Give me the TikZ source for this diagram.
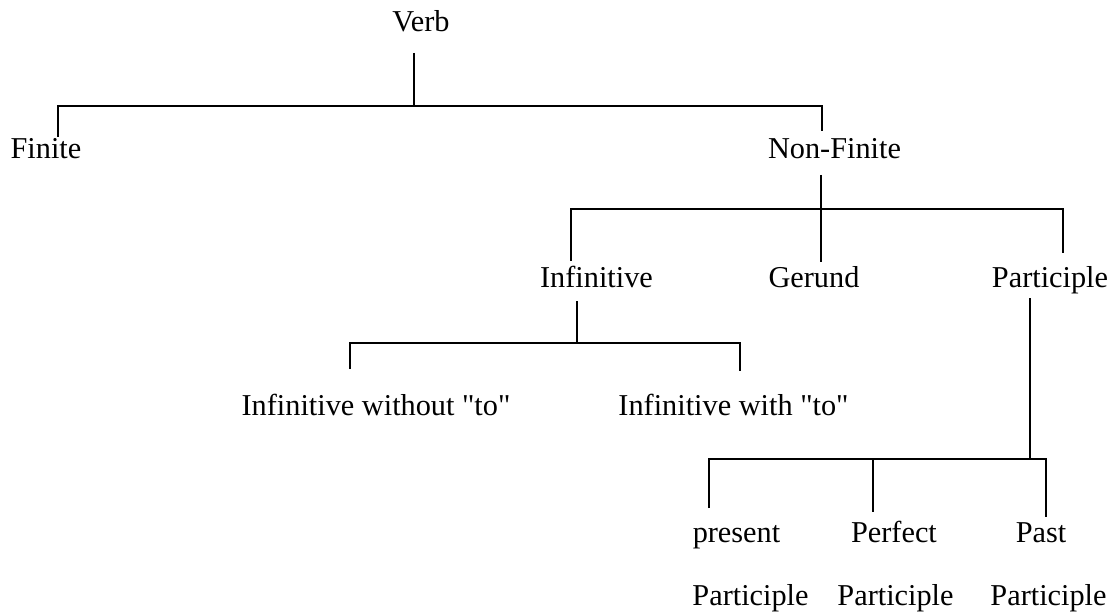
\documentclass[tikz,border=0pt]{standalone}
\usepackage{fontspec}
\setmainfont{Liberation Serif}[Ligatures=TeXOff]
\begin{document}
\begin{tikzpicture}[x=1pt,y=-1pt,
  lbl/.style={anchor=base, inner sep=0pt, font=\fontsize{30.3}{36}\selectfont},
  conn/.style={draw=black, line width=2.6pt}]
\useasboundingbox (0,0) rectangle (1120,615);
% labels
\node[lbl] (verb) at (421,32) {Verb};
\node[lbl] (finite) at (46,159) {Finite};
\node[lbl] (nonfinite) at (834.5,159) {Non-Finite};
\node[lbl] (infinitive) at (596.5,287) {Infinitive};
\node[lbl] (gerund) at (814,287) {Gerund};
\node[lbl] (participle) at (1050,287) {Participle};
\node[lbl] (infwo) at (376,415) {Infinitive without "to"};
\node[lbl] (infw) at (733.5,415) {Infinitive with "to"};
\node[lbl] (present) at (736.5,542) {present};
\node[lbl] (perfect) at (894,542) {Perfect};
\node[lbl] (past) at (1041,542) {Past};
\node[lbl] (presentP) at (750.5,605) {Participle};
\node[lbl] (perfectP) at (895.5,605) {Participle};
\node[lbl] (pastP) at (1048.5,605) {Participle};
% junction coordinates
\coordinate (vtop) at (414,53);
\coordinate (vj) at (414,106);
\coordinate (h1l) at (58,106);
\coordinate (h1r) at (822,106);
\coordinate (finT) at (58,137);
\coordinate (nfT) at (822,131);
\coordinate (nfB) at (821,175);
\coordinate (nfJ) at (821,209);
\coordinate (h2l) at (571,209);
\coordinate (h2r) at (1063,209);
\coordinate (infT) at (571,261);
\coordinate (gerT) at (821,262);
\coordinate (parT) at (1063,253);
\coordinate (infB) at (577,301);
\coordinate (infJ) at (577,343);
\coordinate (h3l) at (350,343);
\coordinate (h3r) at (740,343);
\coordinate (iwoT) at (350,369);
\coordinate (iwT) at (740,371);
\coordinate (parB) at (1030,298);
\coordinate (parJ) at (1030,459);
\coordinate (h4l) at (709,459);
\coordinate (h4m) at (873,459);
\coordinate (h4r) at (1046,459);
\coordinate (preT) at (709,508);
\coordinate (perT) at (873,512);
\coordinate (pasT) at (1046,517);
% connectors
\draw[conn] (vtop) -- (vj);
\draw[conn] (finT) -- (h1l) -- (h1r) -- (nfT);
\draw[conn] (nfB) -- (nfJ) -- (gerT);
\draw[conn] (infT) -- (h2l) -- (h2r) -- (parT);
\draw[conn] (infB) -- (infJ);
\draw[conn] (iwoT) -- (h3l) -- (h3r) -- (iwT);
\draw[conn] (parB) -- (parJ);
\draw[conn] (preT) -- (h4l) -- (h4r) -- (pasT);
\draw[conn] (h4m) -- (perT);
\end{tikzpicture}
\end{document}
